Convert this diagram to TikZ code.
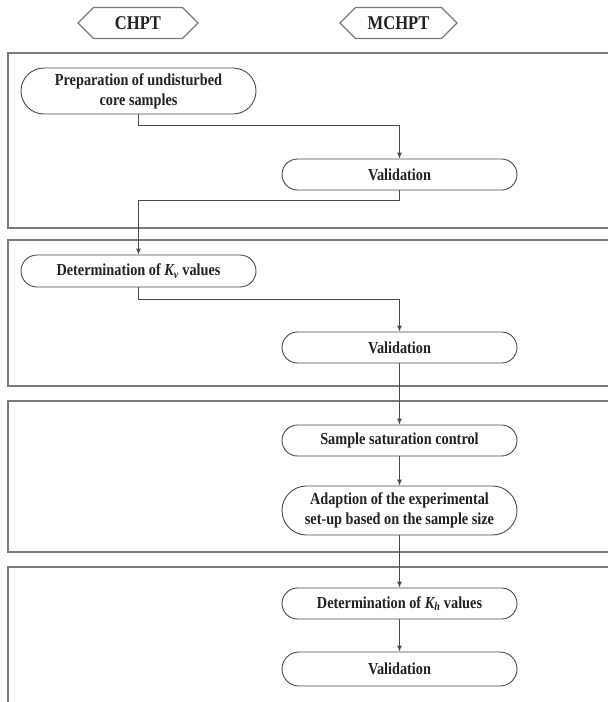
\documentclass[tikz,border=0pt]{standalone}
\usepackage{fontspec}
\setmainfont{Liberation Serif}[FakeStretch=0.85]
\usetikzlibrary{shapes.misc,shapes.symbols,arrows.meta}
\definecolor{boxgray}{HTML}{7A7A7A}
\definecolor{linegray}{HTML}{4A4A4A}
\definecolor{txt}{HTML}{222222}
\tikzset{
  procbox/.style={rounded rectangle, draw=linegray, line width=0.9pt, minimum width=235pt,
    inner sep=0pt, align=center, text=txt, font=\fontsize{16.8}{20}\selectfont\bfseries},
  headtag/.style={signal, signal to=west and east, signal pointer angle=90, draw=boxgray,
    line width=1.2pt, minimum height=31pt, inner sep=0pt, text=txt,
    font=\fontsize{19.5}{22}\selectfont\bfseries},
  frame/.style={draw=boxgray, line width=1.4pt},
  arr/.style={draw=linegray, line width=0.9pt, -{Latex[length=6pt,width=5pt]}},
  conn/.style={draw=linegray, line width=0.9pt}
}
\begin{document}
\begin{tikzpicture}[x=1pt,y=-1pt]
\useasboundingbox (0,0) rectangle (608,702);
\begin{scope}
\clip (0,0) rectangle (608,702);
\draw[frame] (8,53) rectangle (620,228);
\draw[frame] (8,240) rectangle (620,386);
\draw[frame] (8,401) rectangle (620,552);
\draw[frame] (8,567) rectangle (620,720);
\end{scope}

\node[headtag, minimum width=120pt] (chpt) at (138,23) {CHPT};
\node[headtag, minimum width=117pt] (mchpt) at (398.5,23) {MCHPT};

\node[procbox, minimum height=46pt] (prep) at (138.5,91) {Preparation of undisturbed\\core samples};
\node[procbox, minimum height=31pt] (val1) at (399.5,174.5) {Validation};
\node[procbox, minimum height=32pt] (kv) at (138.5,271) {Determination of {\itshape K\textsubscript{v}} values};
\node[procbox, minimum height=31pt] (val2) at (399.5,347.5) {Validation};
\node[procbox, minimum height=31pt] (sat) at (399.5,440.5) {Sample saturation control};
\node[procbox, minimum height=49pt] (adapt) at (399.5,510.5) {Adaption of the experimental\\set-up based on the sample size};
\node[procbox, minimum height=31pt] (kh) at (399.5,603.5) {Determination of {\itshape K\textsubscript{h}} values};
\node[procbox, minimum height=34pt] (val3) at (399.5,669) {Validation};

\coordinate (j1) at (0,125);
\coordinate (j2) at (0,200);
\coordinate (j3) at (0,299);

\draw[arr] (prep.south) -- (prep.south |- j1) -| (val1.north);
\draw[arr] (val1.south) -- (val1.south |- j2) -| (kv.north);
\draw[arr] (kv.south) -- (kv.south |- j3) -| (val2.north);
\draw[arr] (val2.south) -- (sat.north);
\draw[arr] (sat.south) -- (adapt.north);
\draw[arr] (adapt.south) -- (kh.north);
\draw[arr] (kh.south) -- (val3.north);
\end{tikzpicture}
\end{document}
